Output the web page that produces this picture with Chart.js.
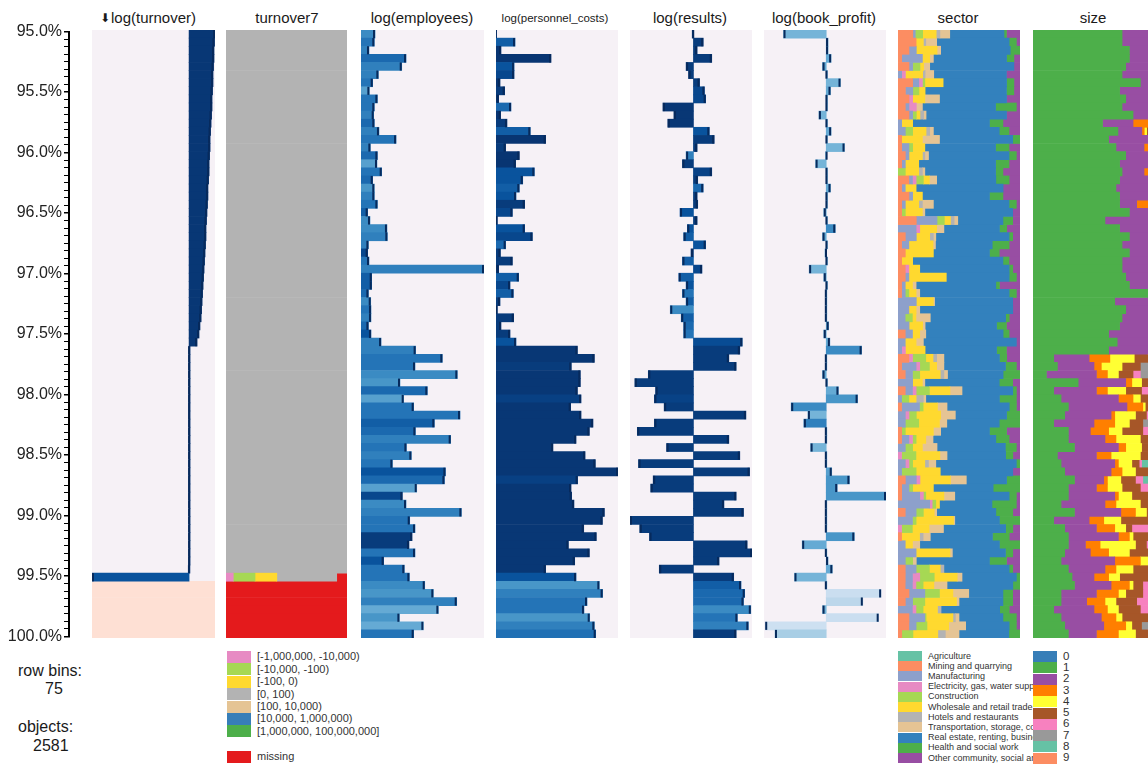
<!DOCTYPE html>
<html>
<head>
<meta charset="utf-8">
<title>tableplot</title>
<script src="https://cdn.jsdelivr.net/npm/chart.js@4.4.0/dist/chart.umd.min.js"></script>
<style>
  body { margin: 0; width: 1148px; height: 766px; overflow: hidden; position: relative; background: #fff;
         font-family: "Liberation Sans", Arial, sans-serif; color: #1a1a1a; }
  canvas { position: absolute; }
  .title { position: absolute; top: 8px; width: 140px; text-align: center; font-size: 15px; line-height: 20px; white-space: nowrap; }
  .title .arrow { font-family: "DejaVu Sans"; font-size: 12px; margin-right: 1px; position: relative; top: -1px; }
  .info { position: absolute; font-size: 16px; line-height: 18px; }
  .legend { position: absolute; top: 651px; overflow: hidden; height: 115px; }
  .legend .sw { position: absolute; left: 0; width: 24px; }
  .legend .lbl { position: absolute; white-space: nowrap; color: #333; }
</style>
</head>
<body>
<div class="title" style="left:78px"><span class="arrow">⬇</span>log(turnover)</div>
<div class="title" style="left:217px">turnover7</div>
<div class="title" style="left:352px">log(employees)</div>
<div class="title" style="left:485px;font-size:11.5px">log(personnel_costs)</div>
<div class="title" style="left:620px">log(results)</div>
<div class="title" style="left:754px">log(book_profit)</div>
<div class="title" style="left:888px">sector</div>
<div class="title" style="left:1023px">size</div>

<canvas id="axis" width="72" height="628" style="left:0;top:20px"></canvas>
<canvas id="turnoverChart" width="123" height="608" style="left:92px;top:30px"></canvas>
<canvas id="turnover7Chart" width="121" height="608" style="left:226px;top:30px"></canvas>
<canvas id="employeesChart" width="123" height="608" style="left:361px;top:30px"></canvas>
<canvas id="personnelChart" width="122" height="608" style="left:496px;top:30px"></canvas>
<canvas id="resultsChart" width="122" height="608" style="left:630px;top:30px"></canvas>
<canvas id="bookProfitChart" width="122" height="608" style="left:764px;top:30px"></canvas>
<canvas id="sectorChart" width="122" height="608" style="left:898px;top:30px"></canvas>
<canvas id="sizeChart" width="122" height="608" style="left:1033px;top:30px"></canvas>

<div class="info" style="left:18px;top:662px">row bins:</div>
<div class="info" style="left:45px;top:680px">75</div>
<div class="info" style="left:18px;top:718px">objects:</div>
<div class="info" style="left:33px;top:737px">2581</div>

<div id="legendTurnover7" class="legend" style="left:227px;width:160px"></div>
<div id="legendSector" class="legend" style="left:898px;width:135px"></div>
<div id="legendSize" class="legend" style="left:1033px;width:115px"></div>

<script>
// ---- data (75 row bins, zoomed on 95% - 100%) ----
const binLabels = Array.from({ length: 75 }, (_, i) => String(i + 1));

const turnoverValues = [
  2.11, 2.07, 2.03, 2.03, 1.99, 1.95, 1.95, 1.91, 1.87, 1.87,
  1.83, 1.79, 1.75, 1.71, 1.71, 1.67, 1.63, 1.63, 1.59, 1.54,
  1.54, 1.50, 1.46, 1.42, 1.38, 1.38, 1.34, 1.30, 1.26, 1.22,
  1.18, 1.14, 1.10, 1.06, 1.02, 0.98, 0.89, 0.81, 0.65, 0.08,
  0.08, 0.08, 0.08, 0.08, 0.08, 0.08, 0.08, 0.08, 0.08, 0.08,
  0.08, 0.08, 0.08, 0.08, 0.08, 0.08, 0.08, 0.08, 0.08, 0.08,
  0.08, 0.08, 0.08, 0.08, 0.08, 0.08, 0.07, -7.9, null, null,
  null, null, null, null, null];
const turnoverCompl = [
  97, 97, 97, 97, 97, 97, 97, 97, 97, 97, 97, 97, 97, 97, 97, 97, 97, 97, 97, 97,
  97, 97, 97, 97, 97, 97, 97, 97, 97, 97, 97, 97, 97, 97, 97, 97, 97, 97, 97, 97,
  97, 97, 97, 97, 97, 97, 97, 97, 97, 97, 97, 97, 97, 97, 97, 97, 97, 97, 97, 97,
  97, 97, 97, 97, 97, 97, 97, 85, 0, 0, 0, 0, 0, 0, 0];
const turnoverMissing = [
  0, 0, 0, 0, 0, 0, 0, 0, 0, 0, 0, 0, 0, 0, 0, 0, 0, 0, 0, 0,
  0, 0, 0, 0, 0, 0, 0, 0, 0, 0, 0, 0, 0, 0, 0, 0, 0, 0, 0, 0,
  0, 0, 0, 0, 0, 0, 0, 0, 0, 0, 0, 0, 0, 0, 0, 0, 0, 0, 0, 0,
  0, 0, 0, 0, 0, 0, 0, 0, 100, 100, 100, 100, 100, 100, 100];

const turnover7Labels = ['[-1,000,000, -10,000)', '[-10,000, -100)', '[-100, 0)', '[0, 100)',
  '[100, 10,000)', '[10,000, 1,000,000)', '[1,000,000, 100,000,000]'];
const t7NegLarge = [
  0, 0, 0, 0, 0, 0, 0, 0, 0, 0, 0, 0, 0, 0, 0, 0, 0, 0, 0, 0,
  0, 0, 0, 0, 0, 0, 0, 0, 0, 0, 0, 0, 0, 0, 0, 0, 0, 0, 0, 0,
  0, 0, 0, 0, 0, 0, 0, 0, 0, 0, 0, 0, 0, 0, 0, 0, 0, 0, 0, 0,
  0, 0, 0, 0, 0, 0, 0, 6, 0, 0, 0, 0, 0, 0, 0];
const t7NegMid = [
  0, 0, 0, 0, 0, 0, 0, 0, 0, 0, 0, 0, 0, 0, 0, 0, 0, 0, 0, 0,
  0, 0, 0, 0, 0, 0, 0, 0, 0, 0, 0, 0, 0, 0, 0, 0, 0, 0, 0, 0,
  0, 0, 0, 0, 0, 0, 0, 0, 0, 0, 0, 0, 0, 0, 0, 0, 0, 0, 0, 0,
  0, 0, 0, 0, 0, 0, 0, 18, 0, 0, 0, 0, 0, 0, 0];
const t7NegSmall = [
  0, 0, 0, 0, 0, 0, 0, 0, 0, 0, 0, 0, 0, 0, 0, 0, 0, 0, 0, 0,
  0, 0, 0, 0, 0, 0, 0, 0, 0, 0, 0, 0, 0, 0, 0, 0, 0, 0, 0, 0,
  0, 0, 0, 0, 0, 0, 0, 0, 0, 0, 0, 0, 0, 0, 0, 0, 0, 0, 0, 0,
  0, 0, 0, 0, 0, 0, 0, 18, 0, 0, 0, 0, 0, 0, 0];
const t7Low = [
  100, 100, 100, 100, 100, 100, 100, 100, 100, 100, 100, 100, 100, 100, 100, 100, 100, 100, 100, 100,
  100, 100, 100, 100, 100, 100, 100, 100, 100, 100, 100, 100, 100, 100, 100, 100, 100, 100, 100, 100,
  100, 100, 100, 100, 100, 100, 100, 100, 100, 100, 100, 100, 100, 100, 100, 100, 100, 100, 100, 100,
  100, 100, 100, 100, 100, 100, 100, 49.5, 0, 0, 0, 0, 0, 0, 0];
const t7Missing = [
  0, 0, 0, 0, 0, 0, 0, 0, 0, 0, 0, 0, 0, 0, 0, 0, 0, 0, 0, 0,
  0, 0, 0, 0, 0, 0, 0, 0, 0, 0, 0, 0, 0, 0, 0, 0, 0, 0, 0, 0,
  0, 0, 0, 0, 0, 0, 0, 0, 0, 0, 0, 0, 0, 0, 0, 0, 0, 0, 0, 0,
  0, 0, 0, 0, 0, 0, 0, 8.5, 100, 100, 100, 100, 100, 100, 100];

const employeesValues = [
  11.4, 10.8, 6.5, 36.6, 33.1, 14.1, 9.5, 6.8, 13.3, 10.8,
  10.3, 10.8, 14.6, 28.5, 7.6, 13.3, 13.0, 16.8, 9.5, 10.8,
  10.8, 13.3, 5.4, 7.3, 21.1, 21.4, 6.0, 5.4, 6.5, 100,
  8.7, 8.7, 6.0, 7.9, 8.1, 8.1, 6.0, 8.1, 16.3, 44.4,
  66.1, 43.9, 78.3, 31.7, 53.9, 34.7, 42.8, 80.5, 59.6, 44.2,
  72.9, 36.9, 40.9, 25.5, 68.6, 67.8, 45.3, 33.6, 36.6, 81.6,
  39.6, 43.9, 41.5, 39.0, 43.9, 18.4, 35.2, 39.3, 51.8, 58.8,
  77.8, 62.9, 31.2, 50.7, 42.8];
const employeesCompl = [
  60, 70, 65, 75, 65, 65, 70, 50, 70, 70, 65, 75, 65, 70, 65, 75, 50, 70, 75, 55,
  65, 70, 80, 60, 60, 65, 65, 90, 70, 65, 80, 80, 75, 60, 70, 65, 75, 85, 65, 65,
  70, 70, 60, 55, 75, 50, 70, 70, 80, 75, 65, 70, 65, 70, 85, 75, 50, 90, 60, 65,
  70, 70, 95, 95, 70, 85, 70, 70, 60, 55, 65, 45, 55, 45, 70];

const personnelValues = [
  0.5, 15.6, 4.1, 45.1, 14.8, 14.8, 3.3, 7.1, 2.2, 12.3,
  3.8, 9.0, 28.1, 40.7, 7.9, 19.1, 16.1, 31.4, 21.9, 19.1,
  16.4, 23.5, 13.4, 1.1, 23.5, 29.8, 7.9, 3.6, 13.4, 2.2,
  18.6, 11.5, 14.2, 3.3, 1.1, 14.5, 4.1, 11.5, 16.4, 66.7,
  80.6, 61.7, 69.1, 69.1, 66.7, 69.7, 61.2, 69.7, 79.5, 76.5,
  65.6, 46.7, 73.0, 81.4, 100, 66.9, 61.5, 62.0, 63.9, 88.8,
  87.2, 71.9, 82.2, 59.3, 76.5, 64.5, 40.7, 65.6, 84.7, 87.4,
  74.6, 72.1, 76.8, 80.6, 81.7];
const personnelCompl = [
  98, 80, 98, 98, 85, 90, 98, 95, 98, 75, 98, 95, 80, 98, 95, 98, 98, 85, 85, 80,
  85, 95, 90, 98, 85, 90, 75, 95, 95, 98, 80, 90, 80, 95, 98, 95, 95, 95, 85, 97,
  97, 95, 97, 97, 97, 93, 97, 97, 97, 97, 97, 97, 97, 97, 97, 93, 97, 97, 97, 97,
  97, 97, 97, 97, 97, 97, 97, 85, 55, 65, 70, 70, 55, 65, 72];

const resultsValues = [
  -1, 8, 3, 15, -6, -4, 5, 9, 10, -25,
  -16, -21, 13, 17, 3, -6, -9, 15, 3.5, 8,
  3, 3.5, -11, 3, -5, -8, 10, -2, -9, 7,
  -12, -6, -9, -6, -19, -10, -8, -8, 40, 38,
  29, 35, -37, -48, -31, -32, -24, 43, -32, -46,
  29, -22, 38, -45, 46, -33, -35, 35, 25, 41,
  -52, -44, -36, 44, 48, 21, -28, 33, 39, 42,
  41, 47, 36, 45, 35];
const resultsCompl = [
  95, 95, 95, 95, 95, 95, 95, 90, 90, 97, 97, 97, 85, 95, 95, 65, 95, 92, 95, 75,
  95, 95, 85, 95, 85, 80, 85, 95, 80, 90, 80, 85, 70, 80, 60, 80, 75, 70, 88, 95,
  95, 95, 95, 95, 95, 92, 95, 95, 95, 95, 95, 95, 95, 95, 95, 95, 95, 95, 95, 95,
  95, 95, 95, 95, 95, 95, 95, 95, 80, 75, 75, 60, 70, 65, 95];

const bookProfitValues = [
  -35, 1.5, 1.5, 4, -3, 1, 11.7, 3.5, 1, 1,
  -6, 1, 4, 1, 15, -0.5, -8.7, 1, 1, 3.5,
  1, 1, -2, 1, 7.4, -3, 1, -1, 1, -14,
  -2, 1, 0.5, 0.5, 0.5, 0.5, 2, -2, 3, 29,
  0.5, 0.5, -3, 1, 10, 25.7, -28.7, -15, -18.3, 0.5,
  0.5, -12.8, 0.5, 0.5, 4.5, 19, 9, 49, 0.5, 0.5,
  0.5, 0.5, 23, -19.7, 0.5, 1.5, 5, -26, 0.5, 45,
  30, -3, 43, -50, -42];
const bookProfitCompl = [
  40, 45, 45, 45, 45, 45, 40, 45, 45, 45, 40, 45, 45, 45, 40, 45, 40, 45, 45, 45,
  45, 45, 45, 45, 60, 45, 45, 45, 45, 40, 45, 45, 45, 45, 45, 45, 45, 45, 45, 60,
  45, 45, 45, 45, 45, 55, 60, 40, 65, 45, 45, 40, 45, 45, 50, 55, 55, 55, 45, 45,
  45, 45, 55, 45, 45, 45, 45, 40, 45, 12, 18, 40, 12, 10, 25];

const sectorLabels = ['Agriculture', 'Mining and quarrying', 'Manufacturing', 'Electricity, gas, water supply',
  'Construction', 'Wholesale and retail trade', 'Hotels and restaurants', 'Transportation, storage, communication',
  'Real estate, renting, business activities', 'Health and social work', 'Other community, social and personal services'];
const sectorMining = [
  12, 15, 9, 3, 9, 0, 12, 6, 9, 6, 9, 0, 0, 3, 3, 6, 3, 0, 9, 3,
  9, 3, 3, 15, 0, 6, 3, 6, 3, 6, 6, 3, 3, 0, 0, 0, 0, 6, 0, 0,
  9, 3, 6, 0, 6, 0, 3, 0, 0, 3, 3, 0, 0, 0, 0, 6, 3, 3, 0, 6,
  0, 0, 3, 0, 0, 0, 6, 6, 6, 9, 6, 0, 9, 9, 3];
const sectorManufacturing = [
  2, 0, 6, 17, 3, 3, 5, 6, 0, 3, 3, 3, 6, 0, 6, 3, 3, 0, 3, 3,
  3, 3, 0, 17, 15, 9, 6, 0, 0, 0, 3, 3, 3, 15, 9, 6, 9, 6, 6, 3,
  0, 12, 6, 12, 6, 3, 15, 6, 6, 0, 6, 6, 0, 6, 3, 9, 6, 15, 26, 9,
  12, 0, 0, 6, 15, 6, 9, 6, 6, 13, 6, 12, 13, 6, 0];
const sectorElectricity = [
  0, 0, 0, 0, 0, 3, 3, 0, 3, 6, 0, 0, 0, 0, 0, 0, 0, 0, 3, 0,
  0, 0, 0, 0, 3, 0, 0, 0, 0, 3, 0, 0, 0, 0, 0, 0, 0, 0, 0, 3,
  3, 3, 0, 0, 3, 0, 0, 3, 0, 0, 3, 0, 3, 3, 0, 3, 0, 3, 2, 0,
  0, 3, 0, 0, 0, 0, 0, 6, 3, 0, 0, 3, 0, 0, 0];
const sectorConstruction = [
  6, 0, 0, 0, 6, 0, 2, 5, 0, 0, 3, 0, 6, 0, 3, 0, 0, 6, 6, 0,
  0, 0, 3, 6, 0, 0, 0, 0, 0, 0, 0, 0, 3, 0, 0, 6, 0, 0, 0, 0,
  11, 8, 6, 0, 11, 6, 3, 6, 11, 3, 3, 6, 12, 3, 12, 0, 3, 2, 3, 6,
  3, 9, 0, 0, 0, 6, 11, 12, 6, 12, 10, 6, 1, 9, 9];
const sectorWholesale = [
  11, 6, 17, 6, 3, 14, 15, 5, 10, 0, 3, 9, 11, 17, 10, 11, 11, 11, 5, 9,
  8, 11, 14, 5, 14, 11, 20, 23, 9, 9, 31, 6, 6, 14, 6, 3, 11, 6, 9, 16,
  6, 6, 17, 8, 17, 6, 12, 20, 17, 23, 8, 8, 20, 10, 20, 25, 17, 15, 3, 9,
  31, 14, 15, 6, 28, 0, 9, 19, 9, 11, 26, 12, 22, 18, 20];
const sectorHotels = [
  3, 2, 0, 0, 0, 2, 0, 0, 0, 0, 3, 0, 3, 0, 0, 2, 0, 3, 0, 0,
  0, 3, 0, 3, 0, 3, 0, 0, 0, 0, 0, 0, 0, 0, 0, 0, 0, 0, 0, 0,
  3, 0, 3, 0, 0, 6, 0, 0, 0, 0, 0, 0, 0, 3, 0, 0, 0, 0, 0, 0,
  0, 0, 3, 0, 0, 0, 3, 0, 0, 0, 0, 3, 2, 0, 6];
const sectorTransport = [
  8, 9, 3, 3, 5, 7, 0, 0, 12, 5, 2, 0, 3, 14, 0, 3, 0, 2, 6, 0,
  0, 9, 2, 3, 6, 2, 2, 0, 0, 0, 0, 3, 3, 1, 3, 12, 2, 5, 6, 0,
  6, 6, 3, 2, 10, 2, 8, 12, 6, 6, 6, 12, 6, 6, 0, 13, 0, 9, 0, 2,
  1, 12, 6, 6, 2, 3, 0, 4, 11, 13, 2, 0, 3, 14, 11];
const sectorRealEstate = [
  44, 60, 57, 60, 69, 59, 52, 66, 55, 60, 66, 63, 54, 60, 58, 66, 63, 58, 49, 72,
  55, 62, 72, 37, 46, 60, 47, 46, 74, 74, 52, 66, 74, 64, 77, 63, 58, 64, 77, 58,
  46, 51, 46, 61, 42, 61, 52, 42, 43, 40, 52, 56, 49, 66, 60, 33, 49, 45, 43, 49,
  37, 52, 52, 66, 44, 60, 54, 45, 55, 28, 36, 49, 36, 36, 40];
const sectorHealth = [
  2, 6, 8, 6, 0, 0, 6, 6, 0, 17, 0, 11, 8, 6, 11, 6, 11, 6, 11, 0,
  11, 6, 0, 8, 6, 3, 14, 8, 5, 3, 6, 3, 6, 0, 0, 3, 8, 5, 0, 8,
  6, 9, 14, 11, 3, 14, 6, 11, 17, 14, 11, 9, 6, 3, 0, 11, 22, 6, 20, 14,
  17, 6, 14, 17, 6, 14, 3, 3, 6, 8, 8, 8, 11, 6, 9];
const sectorOther = [
  11, 3, 0, 5, 5, 11, 5, 5, 11, 3, 11, 14, 9, 0, 9, 3, 9, 14, 9, 14,
  14, 3, 6, 6, 11, 6, 9, 17, 9, 6, 3, 17, 3, 6, 6, 9, 11, 9, 3, 11,
  11, 3, 0, 6, 3, 3, 3, 0, 0, 11, 9, 3, 6, 0, 6, 0, 0, 3, 3, 6,
  0, 6, 9, 0, 6, 11, 6, 0, 0, 6, 6, 9, 3, 3, 0];

const sizeLabels = ['0', '1', '2', '3', '4', '5', '6', '7', '8', '9'];
const size1 = [
  73, 73, 79, 79, 76, 73, 88, 71, 76, 73, 82, 57, 71, 62, 68, 76, 71, 73, 71, 68,
  71, 71, 79, 59, 71, 79, 73, 79, 73, 73, 76, 79, 94, 67, 76, 73, 71, 62, 69, 62,
  17, 20, 11, 37, 17, 23, 29, 26, 17, 29, 29, 34, 20, 23, 26, 34, 29, 29, 23, 34,
  17, 26, 29, 29, 26, 23, 29, 32, 34, 23, 23, 17, 23, 26, 29];
const size2 = [
  27, 27, 21, 21, 24, 27, 12, 26, 24, 27, 18, 25, 20, 36, 23, 24, 29, 18, 29, 26,
  29, 14, 21, 41, 23, 21, 22, 18, 27, 27, 20, 21, 6, 33, 20, 27, 29, 38, 25, 32,
  29, 30, 41, 39, 35, 47, 48, 38, 33, 18, 30, 36, 32, 44, 38, 24, 23, 38, 36, 38,
  29, 26, 41, 14, 21, 44, 30, 18, 30, 29, 21, 33, 33, 32, 23];
const size3 = [
  0, 0, 0, 0, 0, 0, 0, 3, 0, 0, 0, 18, 2, 0, 9, 0, 0, 9, 0, 6,
  0, 15, 0, 0, 6, 0, 5, 3, 0, 0, 4, 0, 0, 0, 4, 0, 0, 0, 6, 3,
  17, 6, 9, 5, 9, 12, 13, 3, 17, 15, 9, 6, 12, 3, 9, 3, 9, 3, 9, 12,
  12, 15, 9, 12, 15, 21, 9, 12, 15, 18, 15, 11, 12, 18, 18];
const size4 = [
  0, 0, 0, 0, 0, 0, 0, 0, 0, 0, 0, 0, 2, 2, 0, 0, 0, 0, 0, 0,
  0, 0, 0, 0, 0, 0, 0, 0, 0, 0, 0, 0, 0, 0, 0, 0, 0, 0, 0, 3,
  20, 17, 9, 8, 15, 6, 2, 17, 12, 11, 20, 13, 24, 11, 11, 11, 12, 11, 20, 9,
  14, 9, 3, 29, 17, 6, 14, 9, 3, 6, 9, 9, 5, 5, 14];
const size5 = [
  0, 0, 0, 0, 0, 0, 0, 0, 0, 0, 0, 0, 7, 0, 0, 0, 0, 0, 0, 0,
  0, 0, 0, 0, 0, 0, 0, 0, 0, 0, 0, 0, 0, 0, 0, 0, 0, 0, 0, 0,
  17, 15, 12, 11, 13, 12, 8, 9, 11, 17, 12, 11, 6, 6, 16, 12, 15, 19, 12, 7,
  28, 5, 18, 9, 21, 6, 18, 24, 8, 14, 17, 18, 21, 8, 10];
const size6 = [
  0, 0, 0, 0, 0, 0, 0, 0, 0, 0, 0, 0, 0, 0, 0, 0, 0, 0, 0, 0,
  0, 0, 0, 0, 0, 0, 0, 0, 0, 0, 0, 0, 0, 0, 0, 0, 0, 0, 0, 0,
  0, 0, 6, 0, 11, 0, 0, 7, 0, 10, 0, 0, 6, 2, 0, 6, 12, 0, 0, 0,
  0, 19, 0, 7, 0, 0, 0, 5, 10, 10, 15, 12, 6, 0, 6];
const size7 = [
  0, 0, 0, 0, 0, 0, 0, 0, 0, 0, 0, 0, 0, 0, 0, 0, 0, 0, 0, 0,
  0, 0, 0, 0, 0, 0, 0, 0, 0, 0, 0, 0, 0, 0, 0, 0, 0, 0, 0, 0,
  0, 6, 12, 0, 0, 0, 0, 0, 10, 0, 0, 0, 0, 0, 0, 0, 0, 0, 0, 0,
  0, 0, 0, 0, 0, 0, 0, 0, 0, 0, 0, 0, 0, 11, 0];
const size8 = [
  0, 0, 0, 0, 0, 0, 0, 0, 0, 0, 0, 0, 0, 0, 0, 0, 0, 0, 0, 0,
  0, 0, 0, 0, 0, 0, 0, 0, 0, 0, 0, 0, 0, 0, 0, 0, 0, 0, 0, 0,
  0, 6, 0, 0, 0, 0, 0, 0, 0, 0, 0, 0, 0, 11, 0, 10, 0, 0, 0, 0,
  0, 0, 0, 0, 0, 0, 0, 0, 0, 0, 0, 0, 0, 0, 0];

// ---- colours ----
const turnover7Colors = ['#e78ac3', '#a6d854', '#ffd92f', '#b3b3b3', '#e5c494', '#377eb8', '#4daf4a'];
const missingColor = '#e41a1c';
const sectorColors = ['#66c2a5', '#fc8d62', '#8da0cb', '#e78ac3', '#a6d854', '#ffd92f', '#b3b3b3', '#e5c494', '#3381bd', '#4daf4a', '#984ea3'];
const sizeColors = ['#377eb8', '#4daf4a', '#984ea3', '#ff7f00', '#ffff33', '#a65628', '#f781bf', '#999999', '#66c2a5', '#fc8d62'];
const blueStops = ['#08306b', '#08519c', '#2171b5', '#4292c6', '#6baed6', '#9ecae1', '#c6dbef', '#deebf7'];
const panelColor = '#f6f1f6';

Chart.defaults.font.family = '"Liberation Sans", Arial, sans-serif';

function hexRgb(h) {
  return [parseInt(h.slice(1, 3), 16), parseInt(h.slice(3, 5), 16), parseInt(h.slice(5, 7), 16)];
}

// completeness (%) -> shade of blue, darker = more complete
function blueFor(compl) {
  let t = Math.min(1, Math.max(0, (100 - compl) / 100)) * (blueStops.length - 1);
  let i = Math.min(blueStops.length - 2, Math.floor(t));
  let f = t - i;
  let a = hexRgb(blueStops[i]), b = hexRgb(blueStops[i + 1]);
  return 'rgb(' + a.map((c, k) => Math.round(c + (b[k] - c) * f)).join(',') + ')';
}

const panelBg = {
  id: 'panelBg',
  beforeDatasetsDraw(chart, args, opts) {
    if (!opts.color) return;
    const a = chart.chartArea;
    chart.ctx.save();
    chart.ctx.fillStyle = opts.color;
    chart.ctx.fillRect(a.left, a.top, a.right - a.left, a.bottom - a.top);
    chart.ctx.restore();
  }
};

// dark strip at the end of each mean bar
const barCaps = {
  id: 'barCaps',
  afterDatasetsDraw(chart) {
    const ctx = chart.ctx;
    chart.data.datasets.forEach((ds, i) => {
      if (!ds.cap) return;
      const meta = chart.getDatasetMeta(i);
      ctx.save();
      ctx.fillStyle = '#072a5c';
      meta.data.forEach((bar, j) => {
        if (ds.data[j] == null || isNaN(bar.x)) return;
        const x = bar.x >= bar.base ? bar.x - 2 : bar.x;
        ctx.fillRect(x, bar.y - bar.height / 2, 2, bar.height);
      });
      ctx.restore();
    });
  }
};
Chart.register(panelBg, barCaps);

let tp = {};

tp.baseOptions = function (scales, bg) {
  return {
    indexAxis: 'y',
    responsive: false,
    animation: false,
    layout: { padding: 0 },
    plugins: { legend: { display: false }, tooltip: { enabled: false }, panelBg: { color: bg } },
    scales: scales,
  };
};

tp.numeric = function (id, values, compl, min, max, missing) {
  let datasets = [{
    data: values,
    cap: true,
    order: 1,
    grouped: false,
    backgroundColor: compl.map(blueFor),
    borderWidth: 0,
    barPercentage: 1,
    categoryPercentage: 1,
    xAxisID: 'x',
  }];
  if (missing) {
    datasets.push({
      data: missing.map(v => v > 0 ? v : null),
      order: 2,
      grouped: false,
      backgroundColor: '#fee0d4',
      borderWidth: 0,
      barPercentage: 1,
      categoryPercentage: 1,
      xAxisID: 'xm',
    });
  }
  return new Chart(document.getElementById(id), {
    type: 'bar',
    data: { labels: binLabels, datasets: datasets },
    options: tp.baseOptions({
      x: { type: 'linear', display: false, min: min, max: max },
      xm: { type: 'linear', axis: 'x', display: false, min: 0, max: 100 },
      y: { display: false },
    }, panelColor),
  });
};

tp.stacked = function (id, series, colors) {
  let totals = binLabels.map((_, i) => series.reduce((s, arr) => s + arr[i], 0));
  let datasets = series.map((arr, k) => ({
    data: arr.map((v, i) => v > 0 && totals[i] ? v / totals[i] * 100 : null),
    backgroundColor: colors[k],
    borderWidth: 0,
    barPercentage: 1,
    categoryPercentage: 1,
  }));
  return new Chart(document.getElementById(id), {
    type: 'bar',
    data: { labels: binLabels, datasets: datasets },
    options: tp.baseOptions({
      x: { display: false, stacked: true, min: 0, max: 100 },
      y: { display: false, stacked: true },
    }, null),
  });
};

tp.legend = function (id, labels, colors, step, swH, fontSize, extra) {
  let box = document.getElementById(id);
  let html = '';
  labels.forEach((lab, i) => {
    let top = i * step;
    html += '<div class="sw" style="top:' + top + 'px;height:' + swH + 'px;background:' + colors[i] + '"></div>';
    html += '<div class="lbl" style="left:30px;top:' + (top + swH / 2 - fontSize * 0.6) + 'px;font-size:' + fontSize + 'px;line-height:' + (fontSize * 1.2) + 'px">' + lab + '</div>';
  });
  if (extra) {
    html += '<div class="sw" style="top:' + extra.top + 'px;height:' + swH + 'px;background:' + extra.color + '"></div>';
    html += '<div class="lbl" style="left:30px;top:' + (extra.top + swH / 2 - fontSize * 0.6) + 'px;font-size:' + fontSize + 'px;line-height:' + (fontSize * 1.2) + 'px">' + extra.label + '</div>';
  }
  box.innerHTML = html;
};

// y axis with percentages
const isMajor = v => Math.abs(v * 2 - Math.round(v * 2)) < 1e-6;
new Chart(document.getElementById('axis'), {
  type: 'line',
  data: { datasets: [] },
  options: {
    responsive: false,
    animation: false,
    layout: { padding: { top: 10, bottom: 10, left: 0, right: 0 } },
    plugins: { legend: { display: false }, tooltip: { enabled: false } },
    scales: {
      x: { display: false },
      y: {
        type: 'linear', position: 'left', reverse: true, min: 95, max: 100,
        afterFit: s => { s.width = 69; },
        border: { display: true, color: '#000', width: 2 },
        grid: { drawOnChartArea: false, tickLength: 5, color: '#000', lineWidth: c => isMajor(c.tick.value) ? 1.5 : 1 },
        ticks: {
          stepSize: 0.0625, autoSkip: false, padding: 2, color: '#222', font: { size: 16 },
          callback: v => isMajor(v) ? v.toFixed(1) + '%' : '',
        },
      },
    },
  },
});

tp.numeric('turnoverChart', turnoverValues, turnoverCompl, -7.9, 2.11, turnoverMissing);
tp.stacked('turnover7Chart', [t7NegLarge, t7NegMid, t7NegSmall, t7Low, t7Missing],
  [turnover7Colors[0], turnover7Colors[1], turnover7Colors[2], turnover7Colors[3], missingColor]);
tp.numeric('employeesChart', employeesValues, employeesCompl, 0, 100);
tp.numeric('personnelChart', personnelValues, personnelCompl, 0, 100);
tp.numeric('resultsChart', resultsValues, resultsCompl, -52, 48);
tp.numeric('bookProfitChart', bookProfitValues, bookProfitCompl, -51, 49);
tp.stacked('sectorChart',
  [sectorMining, sectorManufacturing, sectorElectricity, sectorConstruction, sectorWholesale,
   sectorHotels, sectorTransport, sectorRealEstate, sectorHealth, sectorOther],
  sectorColors.slice(1));
tp.stacked('sizeChart', [size1, size2, size3, size4, size5, size6, size7, size8], sizeColors.slice(1, 9));

tp.legend('legendTurnover7', turnover7Labels, turnover7Colors, 12.4, 12, 11,
  { top: 100, color: missingColor, label: 'missing' });
tp.legend('legendSector', sectorLabels, sectorColors, 10.2, 10, 9);
tp.legend('legendSize', sizeLabels, sizeColors, 11.3, 11, 11.5);
</script>
</body>
</html>
